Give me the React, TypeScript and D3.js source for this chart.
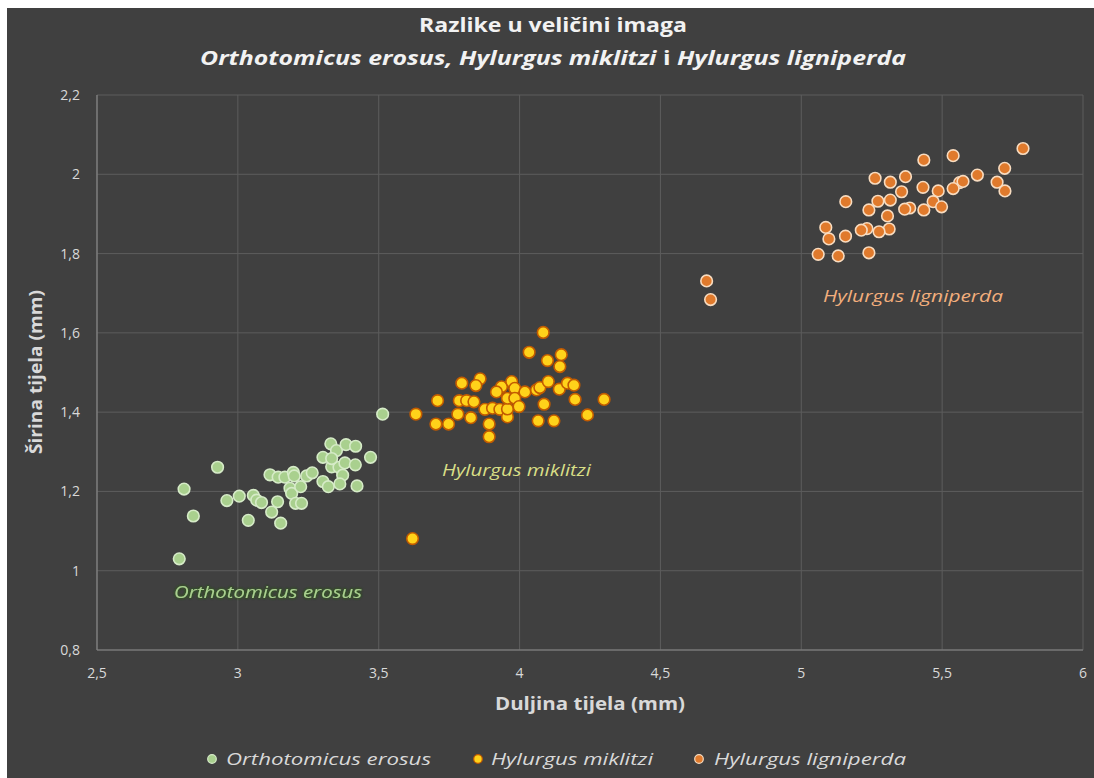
import React from "react";
import * as d3 from "d3";

// ---- data ----
const erosusX = [3.514, 2.928, 2.809, 2.842, 2.792, 2.961, 3.005, 3.037, 3.055, 3.067, 3.084, 3.114, 3.143, 3.167, 3.197, 3.2, 3.141, 3.12, 3.152, 3.185, 3.191, 3.223, 3.205, 3.226, 3.244, 3.264, 3.302, 3.302, 3.321, 3.33, 3.35, 3.333, 3.359, 3.372, 3.362, 3.384, 3.418, 3.38, 3.417, 3.423, 3.471, 3.333];
const erosusY = [1.395, 1.261, 1.206, 1.138, 1.03, 1.177, 1.188, 1.127, 1.19, 1.178, 1.172, 1.242, 1.236, 1.236, 1.248, 1.239, 1.174, 1.148, 1.12, 1.208, 1.195, 1.212, 1.17, 1.17, 1.239, 1.247, 1.286, 1.225, 1.212, 1.32, 1.303, 1.262, 1.261, 1.241, 1.219, 1.318, 1.314, 1.272, 1.267, 1.214, 1.286, 1.283];

const miklitziX = [4.084, 4.034, 4.148, 4.099, 4.143, 3.86, 3.795, 3.845, 3.709, 3.632, 3.703, 3.748, 3.781, 3.786, 3.812, 3.838, 3.827, 3.877, 3.904, 3.892, 3.892, 3.93, 3.957, 3.957, 3.957, 3.936, 3.972, 3.983, 3.983, 3.998, 4.019, 4.06, 4.072, 4.102, 4.087, 4.066, 4.122, 4.141, 4.17, 4.193, 4.197, 4.241, 4.3, 3.62, 3.918];
const miklitziY = [1.601, 1.551, 1.545, 1.53, 1.515, 1.484, 1.473, 1.467, 1.429, 1.395, 1.37, 1.37, 1.395, 1.429, 1.429, 1.426, 1.386, 1.407, 1.41, 1.37, 1.338, 1.407, 1.388, 1.408, 1.435, 1.464, 1.477, 1.46, 1.435, 1.414, 1.451, 1.456, 1.462, 1.477, 1.42, 1.378, 1.378, 1.458, 1.473, 1.468, 1.432, 1.393, 1.432, 1.081, 1.451];

const ligniperdaX = [5.787, 5.722, 5.695, 5.723, 5.625, 5.539, 5.435, 5.562, 5.539, 5.486, 5.432, 5.468, 5.498, 5.435, 5.37, 5.356, 5.316, 5.262, 5.316, 5.272, 5.24, 5.385, 5.367, 5.158, 5.306, 5.312, 5.276, 5.233, 5.213, 5.157, 5.087, 5.098, 5.06, 5.131, 5.24, 5.574, 4.664, 4.678];
const ligniperdaY = [2.065, 2.015, 1.98, 1.958, 1.998, 2.047, 2.036, 1.979, 1.964, 1.958, 1.967, 1.931, 1.918, 1.91, 1.994, 1.956, 1.98, 1.99, 1.935, 1.932, 1.91, 1.915, 1.912, 1.931, 1.895, 1.862, 1.855, 1.863, 1.859, 1.844, 1.866, 1.837, 1.798, 1.794, 1.802, 1.982, 1.731, 1.684];

const seriesNames = ["Orthotomicus erosus", "Hylurgus miklitzi", "Hylurgus ligniperda"];
const xTickValues = [2.5, 3, 3.5, 4, 4.5, 5, 5.5, 6];
const xTickLabels = ["2,5", "3", "3,5", "4", "4,5", "5", "5,5", "6"];
const yTickValues = [0.8, 1, 1.2, 1.4, 1.6, 1.8, 2, 2.2];
const yTickLabels = ["0,8", "1", "1,2", "1,4", "1,6", "1,8", "2", "2,2"];

const titleText = "Razlike u veličini imaga";
const xTitle = "Duljina tijela (mm)";
const yTitle = "Širina tijela (mm)";

// ---- styles ----
const FONT = "'Open Sans', 'DejaVu Sans', sans-serif";
const styles = [
  { fill: "#a9d08e", stroke: "#d6ebc8", label: "#a9d18e" },
  { fill: "#ffd21a", stroke: "#c25b00", label: "#d8de86" },
  { fill: "#e07a2c", stroke: "#f8dcc0", label: "#f2ae7c" },
];

export default function App() {
  const x = d3.scaleLinear().domain([2.5, 6]).range([97, 1083]);
  const y = d3.scaleLinear().domain([0.8, 2.2]).range([650, 95]);

  const series = [
    { xs: erosusX, ys: erosusY },
    { xs: miklitziX, ys: miklitziY },
    { xs: ligniperdaX, ys: ligniperdaY },
  ];

  const legendItems = [
    { dot: 212, text: 226, len: 205 },
    { dot: 478, text: 491, len: 162 },
    { dot: 699, text: 714, len: 192 },
  ];

  return (
    <svg
      width={1094}
      height={778}
      style={{ position: "absolute", left: 0, top: 0, fontFamily: FONT }}
    >
      <defs>
        <filter id="glowG" x="-10%" y="-50%" width="120%" height="200%">
          <feGaussianBlur in="SourceAlpha" stdDeviation="1.6" result="b" />
          <feFlood floodColor="#2f5a1c" result="c" />
          <feComposite in="c" in2="b" operator="in" result="g" />
          <feMerge>
            <feMergeNode in="g" />
            <feMergeNode in="g" />
            <feMergeNode in="SourceGraphic" />
          </feMerge>
        </filter>
      </defs>
      <rect x={0} y={0} width={1094} height={778} fill="#ffffff" />
      <rect x={7} y={8} width={1087} height={770} fill="#404040" />

      {/* titles */}
      <text x={553} y={32} textAnchor="middle" fontSize={20} fontWeight={700} fill="#f2f2f2" textLength={268} lengthAdjust="spacingAndGlyphs">
        {titleText}
      </text>
      <text x={553} y={65} textAnchor="middle" fontSize={19} fontWeight={700} fill="#f2f2f2" textLength={706} lengthAdjust="spacingAndGlyphs">
        <tspan fontStyle="italic">{seriesNames[0]}, {seriesNames[1]}</tspan>
        <tspan> i </tspan>
        <tspan fontStyle="italic">{seriesNames[2]}</tspan>
      </text>

      {/* gridlines */}
      {xTickValues.map((v, i) => (
        <line key={"gx" + i} x1={x(v)} x2={x(v)} y1={y(2.2)} y2={y(0.8)} stroke="#5c5c5c" strokeWidth={1} />
      ))}
      {yTickValues.map((v, i) => (
        <line key={"gy" + i} x1={x(2.5)} x2={x(6)} y1={y(v)} y2={y(v)} stroke="#5c5c5c" strokeWidth={1} />
      ))}
      {/* axes */}
      <line x1={x(2.5)} x2={x(2.5)} y1={y(2.2)} y2={y(0.8)} stroke="#858585" strokeWidth={1.2} />
      <line x1={x(2.5)} x2={x(6)} y1={y(0.8)} y2={y(0.8)} stroke="#858585" strokeWidth={1.2} />

      {/* tick labels */}
      {xTickValues.map((v, i) => (
        <text key={"tx" + i} x={x(v)} y={678} textAnchor="middle" fontSize={14} fill="#d9d9d9">
          {xTickLabels[i]}
        </text>
      ))}
      {yTickValues.map((v, i) => (
        <text key={"ty" + i} x={80} y={y(v) + 5} textAnchor="end" fontSize={14} fill="#d9d9d9">
          {yTickLabels[i]}
        </text>
      ))}

      {/* axis titles */}
      <text x={590} y={710} textAnchor="middle" fontSize={17.5} fontWeight={700} fill="#d9d9d9" textLength={190} lengthAdjust="spacingAndGlyphs">
        {xTitle}
      </text>
      <text transform={`translate(42,372) rotate(-90)`} textAnchor="middle" fontSize={17.5} fontWeight={700} fill="#d9d9d9" textLength={164} lengthAdjust="spacingAndGlyphs">
        {yTitle}
      </text>

      {/* points */}
      {series.map((s, si) => (
        <g key={"s" + si}>
          {s.xs.map((xv, i) => (
            <circle
              key={i}
              cx={x(xv)}
              cy={y(s.ys[i])}
              r={5.8}
              fill={styles[si].fill}
              stroke={styles[si].stroke}
              strokeWidth={1.6}
            />
          ))}
        </g>
      ))}

      {/* annotations */}
      <text x={174} y={598} fontSize={17} fontStyle="italic" fill={styles[0].label} filter="url(#glowG)" textLength={188} lengthAdjust="spacingAndGlyphs">
        {seriesNames[0]}
      </text>
      <text x={442} y={476} fontSize={17} fontStyle="italic" fill={styles[1].label} textLength={149} lengthAdjust="spacingAndGlyphs">
        {seriesNames[1]}
      </text>
      <text x={823} y={302} fontSize={17} fontStyle="italic" fill={styles[2].label} textLength={180} lengthAdjust="spacingAndGlyphs">
        {seriesNames[2]}
      </text>

      {/* legend */}
      {legendItems.map((it, i) => (
        <g key={"lg" + i}>
          <circle cx={it.dot} cy={759} r={4.3} fill={styles[i].fill} stroke={styles[i].stroke} strokeWidth={1.2} />
          <text x={it.text} y={765} fontSize={17} fontStyle="italic" fill="#d9d9d9" textLength={it.len} lengthAdjust="spacingAndGlyphs">
            {seriesNames[i]}
          </text>
        </g>
      ))}
    </svg>
  );
}
